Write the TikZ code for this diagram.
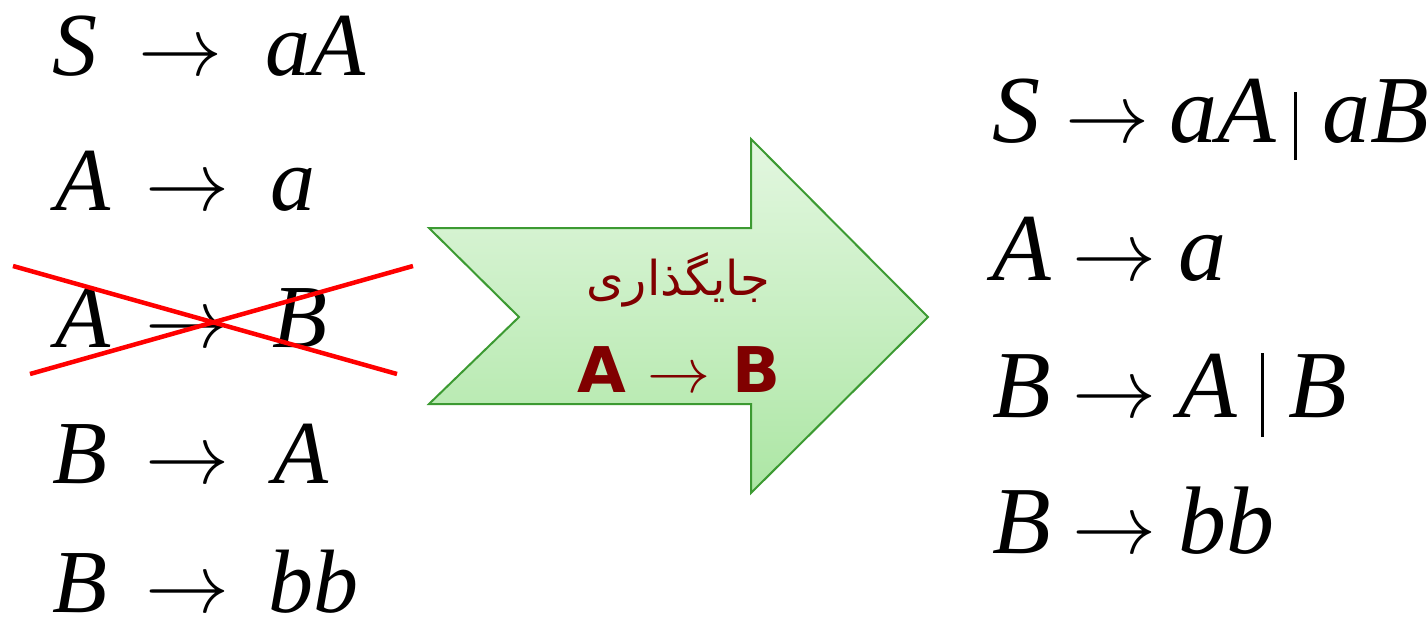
\RequirePackage{fix-cm}
\documentclass[tikz,border=0pt]{standalone}
\usepackage{fontspec}
\setmainfont{Liberation Serif}
\newfontfamily\eqit{Liberation Serif Italic}
\newfontfamily\arabicfont[Script=Arabic]{DejaVu Sans}
\newfontfamily\labfont{DejaVu Sans Bold}
\TeXXeTstate=1
\definecolor{crossred}{HTML}{FF0000}
\definecolor{labred}{HTML}{800000}
\definecolor{arrowborder}{HTML}{3C9A32}
\definecolor{arrowtop}{HTML}{E3F7E0}
\definecolor{arrowbot}{HTML}{ACE6A4}
\begin{document}
\begin{tikzpicture}[x=1pt,y=-1pt,
  lt/.style={anchor=base west, inner sep=0pt, text height=64pt, text depth=10pt, font=\fontsize{90}{100}\selectfont\eqit},
  la/.style={anchor=base west, inner sep=0pt, font=\fontsize{84}{90}\selectfont},
  rt/.style={anchor=base west, inner sep=0pt, font=\fontsize{96}{110}\selectfont\eqit},
  ra/.style={anchor=base west, inner sep=0pt, font=\fontsize{84}{90}\selectfont},
  barnode/.style={anchor=base west, inner sep=0pt},
  crossline/.style={draw=crossred, line width=4.5pt},
  bigarrow/.style={draw=arrowborder, line width=2pt, top color=arrowtop, bottom color=arrowbot, line join=miter}
]
\useasboundingbox (0,0) rectangle (1428,624);

% left column
\node[lt] (l1a) at (52,75) {S};
\node[la] (l1b) at (138,75) {$\rightarrow$};
\node[lt] (l1c) at (265,75) {aA};

\node[lt] (l2a) at (55,210) {A};
\node[la] (l2b) at (145,210) {$\rightarrow$};
\node[lt] (l2c) at (270,210) {a};

\node[lt] (l3a) at (55,347) {A};
\node[la] (l3b) at (145,347) {$\rightarrow$};
\node[lt] (l3c) at (272,347) {B};

\node[lt] (l4a) at (52,483) {B};
\node[la] (l4b) at (145,483) {$\rightarrow$};
\node[lt] (l4c) at (273,483) {A};

\node[lt] (l5a) at (52,612) {B};
\node[la] (l5b) at (145,612) {$\rightarrow$};
\node[lt] (l5c) at (268,612) {bb};

% cross over the removed rule
\coordinate (c1s) at (13,266);
\coordinate (c1e) at (397,374);
\coordinate (c2s) at (30,374);
\coordinate (c2e) at (413,266);
\draw[crossline] (c1s) -- (c1e);
\draw[crossline] (c2s) -- (c2e);

% big arrow
\shade[bigarrow] (429,228) -- (751,228) -- (751,139) -- (928,317) -- (751,493) -- (751,404) -- (429,404) -- (519,317) -- cycle;
\node[inner sep=0pt, text=labred, font=\fontsize{48}{56}\selectfont\arabicfont] (lab1) at (678,280) {\beginR جایگذاری\endR};
\node[anchor=base, inner sep=0pt, text=labred, font=\fontsize{63}{70}\selectfont\labfont] (lab2) at (679,392) {A $\rightarrow$ B};

% right column
\node[rt] (r1a) at (992,142) {S};
\node[ra] (r1b) at (1065,142) {$\rightarrow$};
\node[rt] (r1c) at (1169,142) {aA};
\node[barnode] (r1d) at (1294,142) {\vrule width 3pt height 50pt depth 18pt};
\node[rt] (r1e) at (1322,142) {aB};

\node[rt] (r2a) at (992,280) {A};
\node[ra] (r2b) at (1072,280) {$\rightarrow$};
\node[rt] (r2c) at (1178,280) {a};

\node[rt] (r3a) at (992,417) {B};
\node[ra] (r3b) at (1072,417) {$\rightarrow$};
\node[rt] (r3c) at (1178,417) {A};
\node[barnode] (r3d) at (1261,417) {\vrule width 3pt height 64pt depth 20pt};
\node[rt] (r3e) at (1288,417) {B};

\node[rt] (r4a) at (992,553) {B};
\node[ra] (r4b) at (1072,553) {$\rightarrow$};
\node[rt] (r4c) at (1178,553) {bb};
\end{tikzpicture}
\end{document}
